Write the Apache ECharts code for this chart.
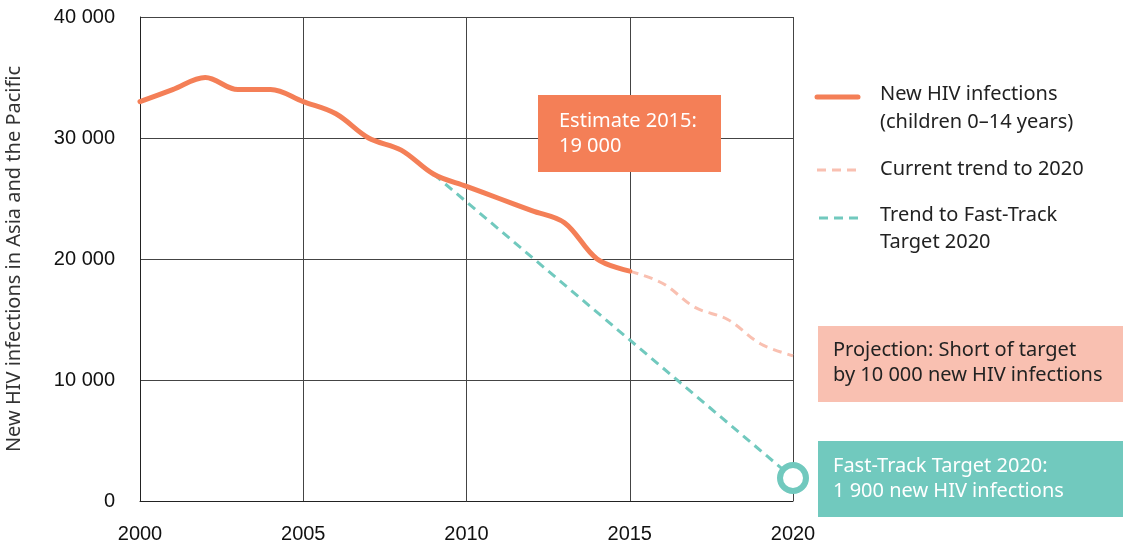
<!DOCTYPE html>
<html>
<head>
<meta charset="utf-8">
<script src="https://cdn.jsdelivr.net/npm/echarts@6/dist/echarts.min.js"></script>
<style>
  html, body { margin: 0; padding: 0; background: #fff; }
  #main { width: 1129px; height: 546px; }
</style>
</head>
<body>
<div id="main"></div>
<script>
// data
var years = [2000, 2001, 2002, 2003, 2004, 2005, 2006, 2007, 2008, 2009, 2010, 2011, 2012, 2013, 2014, 2015];
var newInfections = [33000, 34000, 35000, 34000, 34000, 33000, 32000, 30000, 29000, 27000, 26000, 25000, 24000, 23000, 20000, 19000];
var trendYears = [2015, 2016, 2017, 2018, 2019, 2020];
var currentTrend = [19000, 18000, 16000, 15000, 13000, 12000];
var fastTrackYears = [2009, 2020];
var fastTrack = [27000, 1900];

var orange = '#F47F57';
var pink = '#F9C0B1';
var teal = '#71C9BE';
var font = '"Noto Sans", sans-serif';
var tickFont = '"Liberation Sans", Arial, sans-serif';

function pairs(xs, ys) {
  return xs.map(function (x, i) { return [x, ys[i]]; });
}

var ftData = pairs(fastTrackYears, fastTrack);
ftData[1] = {
  value: ftData[1],
  symbol: 'circle',
  symbolSize: 26,
  itemStyle: { color: '#fff', borderColor: teal, borderWidth: 6 }
};

var chart = echarts.init(document.getElementById('main'));
var option = {
  animation: false,
  grid: { left: 140, right: 336, top: 17, bottom: 45, outerBoundsMode: 'none', containLabel: false },
  xAxis: {
    type: 'value',
    min: 2000, max: 2020, interval: 5,
    axisLine: { lineStyle: { color: '#222', width: 1 } },
    axisTick: { show: false },
    splitLine: { show: true, lineStyle: { color: '#444', width: 1 } },
    axisLabel: {
      color: '#111', fontSize: 20, margin: 23, fontFamily: tickFont,
      formatter: function (v) { return String(v); }
    }
  },
  yAxis: {
    type: 'value',
    min: 0, max: 40000, interval: 10000,
    name: 'New HIV infections in Asia and the Pacific',
    nameLocation: 'middle',
    nameGap: 116,
    nameTextStyle: { color: '#333', fontSize: 20, fontFamily: font },
    axisLine: { show: true, lineStyle: { color: '#222', width: 1 } },
    axisTick: { show: false },
    splitLine: { lineStyle: { color: '#444', width: 1 } },
    axisLabel: {
      color: '#111', fontSize: 20, margin: 25, fontFamily: tickFont,
      formatter: function (v) { return String(v).replace(/\B(?=(\d{3})+(?!\d))/g, ' '); }
    }
  },
  series: [
    {
      name: 'Trend to Fast-Track Target 2020',
      type: 'line',
      symbol: 'none',
      lineStyle: { color: teal, width: 3, type: [9, 6] },
      data: ftData,
      z: 2
    },
    {
      name: 'Current trend to 2020',
      type: 'line',
      smooth: 0.35,
      symbol: 'none',
      lineStyle: { color: pink, width: 3, type: [9, 6] },
      data: pairs(trendYears, currentTrend),
      z: 2
    },
    {
      name: 'New HIV infections (children 0–14 years)',
      type: 'line',
      smooth: 0.35,
      symbol: 'none',
      lineStyle: { color: orange, width: 5, cap: 'round' },
      data: pairs(years, newInfections),
      z: 3
    }
  ],
  graphic: [
    // legend
    { type: 'line', shape: { x1: 817, y1: 97, x2: 858, y2: 97 }, style: { stroke: orange, lineWidth: 5, lineCap: 'round' } },
    { type: 'text', x: 880, y: 80, style: { text: 'New HIV infections\n(children 0–14 years)', fill: '#222', font: '20px ' + font, lineHeight: 28 } },
    { type: 'line', shape: { x1: 817, y1: 170, x2: 859, y2: 170 }, style: { stroke: pink, lineWidth: 3, lineDash: [9, 6] } },
    { type: 'text', x: 880, y: 155, style: { text: 'Current trend to 2020', fill: '#222', font: '20px ' + font, lineHeight: 28 } },
    { type: 'line', shape: { x1: 819, y1: 218, x2: 861, y2: 218 }, style: { stroke: teal, lineWidth: 3, lineDash: [9, 6] } },
    { type: 'text', x: 880, y: 202, style: { text: 'Trend to Fast-Track\nTarget 2020', fill: '#222', font: '20px ' + font, lineHeight: 27 } },
    // annotation boxes
    { type: 'rect', shape: { x: 538, y: 95, width: 183, height: 77 }, style: { fill: orange }, z: 10 },
    { type: 'text', x: 559, y: 109, z: 11, style: { text: 'Estimate 2015:\n19 000', fill: '#fff', font: '20px ' + font, lineHeight: 25 } },
    { type: 'rect', shape: { x: 818, y: 326, width: 305, height: 76 }, style: { fill: pink }, z: 10 },
    { type: 'text', x: 833, y: 338, z: 11, style: { text: 'Projection: Short of target\nby 10 000 new HIV infections', fill: '#222', font: '20px ' + font, lineHeight: 25 } },
    { type: 'rect', shape: { x: 818, y: 441, width: 305, height: 76 }, style: { fill: teal }, z: 10 },
    { type: 'text', x: 833, y: 454, z: 11, style: { text: 'Fast-Track Target 2020:\n1 900 new HIV infections', fill: '#fff', font: '20px ' + font, lineHeight: 25 } }
  ]
};
chart.setOption(option);
</script>
</body>
</html>
